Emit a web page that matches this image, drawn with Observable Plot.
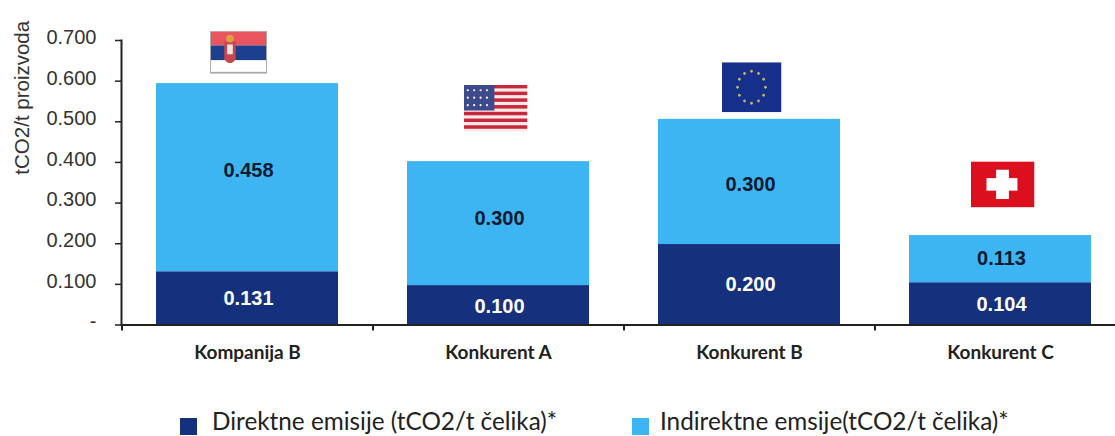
<!DOCTYPE html>
<html><head><meta charset="utf-8">
<script src="https://cdn.jsdelivr.net/npm/d3@7"></script>
<script src="https://cdn.jsdelivr.net/npm/@observablehq/plot@0.6"></script>
<style>
html,body{margin:0;padding:0;background:#fff;overflow:hidden}
#legend{position:absolute;left:0;top:404px;width:1115px;height:32px;font:24.3px Lato,"Open Sans",sans-serif;color:#222}
#legend div{position:absolute;top:2px;white-space:nowrap;line-height:30px}
#legend i{position:absolute;top:12px;width:17px;height:17px}
</style></head><body>
<div id="chart"></div>
<div id="legend"></div>
<script>
const categories = ["Kompanija B","Konkurent A","Konkurent B","Konkurent C"];
const direct = [0.131,0.097,0.198,0.104];
const indirect = [0.463,0.305,0.308,0.116];
const directLabels = ["0.131","0.100","0.200","0.104"];
const indirectLabels = ["0.458","0.300","0.300","0.113"];
const directLabelAt = [0.065,0.046,0.100,0.050];
const indirectLabelAt = [0.381,0.262,0.346,0.164];
const flagAt = [0.671,0.533,0.585,0.346];
const flagSizes = [[57,43],[64,47],[60,50],[64,46]];
const flagNudge = [-9,-3,2,2];
const yTicks = [0,0.1,0.2,0.3,0.4,0.5,0.6,0.7];
const yTitle = "tCO2/t proizvoda";
const seriesNames = ["Direktne emisije (tCO2/t čelika)*","Indirektne emsije(tCO2/t čelika)*"];
const colors = ["#15317e","#3db5f2"];

const svgUrl = s => "data:image/svg+xml;utf8,"+encodeURIComponent(`<svg xmlns="http://www.w3.org/2000/svg" viewBox="0 0 60 44" preserveAspectRatio="none">${s}</svg>`);
const star=(x,y,r=1)=>`<circle cx="${x}" cy="${y}" r="${r}"/>`;
const flags = [
 svgUrl(`<rect width="60" height="44" fill="#a8a8a8"/><rect x="1" y="1" width="58" height="41" fill="#fff"/><rect x="1" y="1" width="58" height="14" fill="#e9545f"/><rect x="1" y="15" width="58" height="15" fill="#1d3f8f"/><path d="M15 11h12v18q-6 8-12 0z" fill="#c6474c"/><circle cx="21" cy="8" r="4" fill="#dfa044"/><rect x="18" y="14" width="6" height="10" fill="#ece4e4"/>`),
 svgUrl(`<rect width="60" height="44" fill="#fbeaea"/>`+[0,1,2,3,4,5,6].map(i=>`<rect y="${i*6.3}" width="60" height="3.3" fill="#c8283c"/>`).join("")+`<rect width="29" height="24" fill="#3d4a8c"/><g fill="#fff">`+[4,10,16,22].flatMap(x=>[5,12,19].map(y=>star(x,y))).join("")+`</g>`),
 svgUrl(`<rect width="60" height="44" fill="#16308c"/><g fill="#c9b66a">`+d3.range(12).map(i=>star(30+14*Math.cos(i*Math.PI/6),22+14*Math.sin(i*Math.PI/6),1.3)).join("")+`</g>`),
 svgUrl(`<rect width="60" height="44" fill="#dc0f1e"/><rect x="24" y="8" width="12" height="28" fill="#fff"/><rect x="15" y="16" width="29" height="12" fill="#fff"/>`)
];

const bars = categories.flatMap((c,i)=>[
 {c,s:seriesNames[0],v:direct[i]},
 {c,s:seriesNames[1],v:indirect[i]}
]);
const labels = categories.flatMap((c,i)=>[
 {c,at:directLabelAt[i],text:directLabels[i],fill:"#fff"},
 {c,at:indirectLabelAt[i],text:indirectLabels[i],fill:"#0a1a30"}
]);
const fmt = d => d===0 ? "-" : d.toFixed(3);

const plot = Plot.plot({
 width:1115,height:404,
 marginLeft:121,marginRight:-11,marginTop:40,marginBottom:79.5,
 style:{background:"#fff",overflow:"visible"},
 x:{domain:categories,paddingInner:0.275,paddingOuter:0.137,axis:null},
 y:{domain:[0,0.7],axis:null},
 color:{domain:seriesNames,range:colors},
 marks:[
  Plot.barY(bars,Plot.stackY({x:"c",y:"v",fill:"s",order:null})),
  Plot.text(labels,{x:"c",y:"at",text:"text",fill:"fill",dx:1,fontWeight:"bold",fontSize:20,fontFamily:"Liberation Sans"}),
  ...categories.map((c,i)=>Plot.image([c],{x:d=>d,y:()=>flagAt[i],src:()=>flags[i],width:flagSizes[i][0],height:flagSizes[i][1],dx:flagNudge[i],preserveAspectRatio:"none"})),
  Plot.axisY({ticks:yTicks,tickFormat:null,text:null,tickSize:6,stroke:"#222",strokeWidth:1.5,label:null,anchor:"left"}),
  Plot.axisY({ticks:yTicks,tickFormat:fmt,tickSize:0,tickPadding:25,dy:-3,fontSize:20,fontFamily:"Liberation Sans",label:null,fill:"#333",anchor:"left"}),
  Plot.frame({anchor:"left",stroke:"#222",strokeWidth:2}),
  Plot.axisX({ticks:categories,tickSize:0,tickPadding:20,fontSize:19,fontWeight:"bold",fontFamily:"Lato",label:null,fill:"#222"}),
  Plot.ruleX(categories,{x:d=>d,y1:0,y2:-0.015,dx:-125.5,stroke:"#222",strokeWidth:2}),
  Plot.ruleY([0],{stroke:"#222",strokeWidth:2}),
  Plot.text([yTitle],{text:d=>d,frameAnchor:"left",textAnchor:"middle",rotate:-90,dx:-99,dy:-85,fontSize:20.5,fontFamily:"Liberation Sans",fill:"#333"}),
 ]
});
document.getElementById("chart").append(plot);
const lg=document.getElementById("legend");
[[212,180,0],[660,632,1]].forEach(([x,bx,i])=>{const d=document.createElement("div");d.style.left=x+"px";d.textContent=seriesNames[i];const b=document.createElement("i");b.style.background=colors[i];b.style.left=(bx-x)+"px";d.append(b);lg.append(d);});
</script></body></html>
